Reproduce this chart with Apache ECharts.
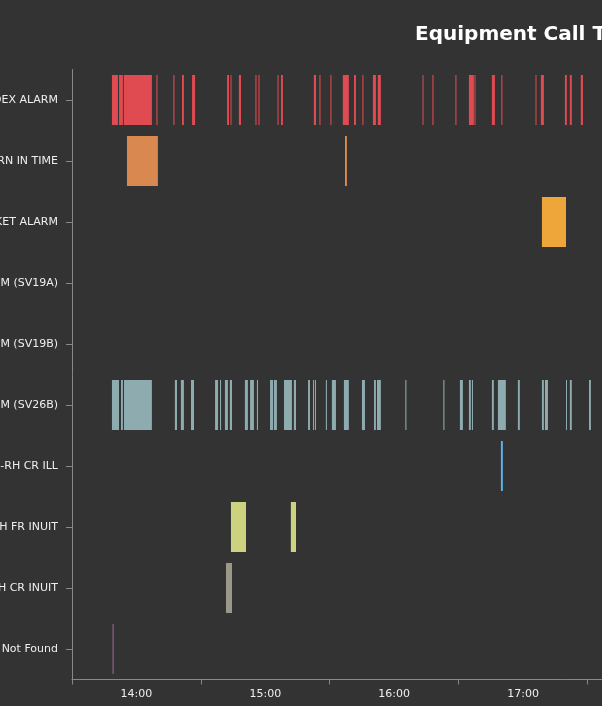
<!DOCTYPE html>
<html>
<head>
<meta charset="utf-8">
<style>
  html, body { margin: 0; padding: 0; background: #333333; overflow: hidden; }
  #chart { width: 1100px; height: 706px; }
</style>
<script src="https://cdn.jsdelivr.net/npm/echarts@6/dist/echarts.min.js"></script>
</head>
<body>
<div id="chart"></div>
<script>
// Categories, top to bottom
var categories = [
  'INDEX ALARM',
  'RETURN IN TIME',
  'BUCKET ALARM',
  'SERVO ALARM (SV19A)',
  'SERVO ALARM (SV19B)',
  'SERVO ALARM (SV26B)',
  'LH-RH CR ILL',
  'LH FR INUIT',
  'RH CR INUIT',
  'Not Found'
];

// Intervals per category: [start, end] in minutes after midnight
var indexAlarm = [
  [828.6, 831.4], [831.9, 833.7], [834.1, 847.2], [849.3, 849.8], [857.2, 857.7],
  [861.2, 862.1], [865.9, 867.3], [882.2, 883.1], [883.8, 884.2], [887.7, 888.7],
  [895.4, 895.9], [896.8, 897.3], [905.7, 906.1], [907.3, 908.2], [922.6, 923.6],
  [925.2, 925.7], [930.3, 930.8], [936.1, 938.9], [941.3, 942.2], [945.2, 945.7],
  [950.1, 951.5], [952.4, 953.8], [973.2, 973.6], [977.8, 978.3], [988.5, 989.0],
  [994.8, 997.1], [997.4, 997.8], [1005.5, 1006.9], [1009.9, 1010.4], [1025.8, 1026.2],
  [1028.3, 1029.7], [1039.5, 1040.4], [1041.8, 1042.7], [1046.9, 1047.9]
];
var returnInTime = [[835.6, 850.0], [937.1, 938.0]];
var bucketAlarm = [[1028.8, 1040.0]];
var servoSV19A = [];
var servoSV19B = [];
var servoSV26B = [
  [828.6, 831.9], [832.8, 833.7], [834.2, 847.2], [857.9, 858.9], [860.7, 862.1],
  [865.4, 866.8], [876.6, 878.0], [878.9, 879.4], [881.2, 882.6], [883.5, 884.5],
  [890.5, 891.9], [892.9, 894.7], [896.1, 896.6], [902.2, 903.6], [904.0, 905.4],
  [908.7, 912.4], [913.3, 914.3], [919.9, 920.8], [922.2, 922.6], [923.1, 923.6],
  [928.2, 928.7], [931.0, 932.9], [936.6, 938.9], [945.0, 946.4], [950.6, 951.5],
  [952.0, 953.8], [965.2, 965.7], [982.9, 983.4], [990.6, 992.0], [994.8, 995.7],
  [996.2, 996.7], [1005.5, 1006.4], [1008.3, 1012.0], [1017.6, 1018.5], [1028.8, 1029.7],
  [1030.2, 1031.6], [1040.0, 1040.4], [1041.8, 1042.7], [1050.7, 1051.6]
];
var lhRhCrIll = [[1009.7, 1010.6]];
var lhFrInuit = [[884.0, 891.0], [911.9, 914.3]];
var rhCrInuit = [[881.7, 884.5]];
var notFound = [[828.9, 829.3]];

var seriesValues = [indexAlarm, returnInTime, bucketAlarm, servoSV19A, servoSV19B,
                    servoSV26B, lhRhCrIll, lhFrInuit, rhCrInuit, notFound];
var colors = ['#e04b52', '#d9884f', '#eea539', '#7fb0c9', '#9ab0b8',
              '#8eabb0', '#5cb3e8', '#cdd27f', '#9c9889', '#a0689a'];

// Axis range in minutes (13:30 -> 21:10)
var xMin = 810, xMax = 1270;

function hhmm(v) {
  var h = Math.floor(v / 60), m = Math.round(v % 60);
  return (h < 10 ? '0' : '') + h + ':' + (m < 10 ? '0' : '') + m;
}

var data = [];
seriesValues.forEach(function (arr, ci) {
  arr.forEach(function (iv) {
    data.push({ value: [ci, iv[0], iv[1]], itemStyle: { color: colors[ci] } });
  });
});

var font = 'DejaVu Sans';
var chart = echarts.init(document.getElementById('chart'), null, { renderer: 'canvas' });
chart.setOption({
  backgroundColor: '#333333',
  animation: false,
  title: {
    text: 'Equipment Call Timeline',
    left: 410,
    top: 20,
    textStyle: { color: '#ffffff', fontSize: 20, fontWeight: 'bold', fontFamily: font }
  },
  grid: { left: 72, top: 69.5, width: 988, height: 610, containLabel: false, outerBoundsMode: 'none' },
  xAxis: [
    {
      type: 'value', min: xMin, max: xMax, interval: 60,
      axisLine: { show: true, lineStyle: { color: '#888888' } },
      axisTick: { show: true, length: 5, lineStyle: { color: '#888888' } },
      axisLabel: { show: false },
      splitLine: { show: false }
    },
    {
      type: 'value', min: xMin, max: xMax, interval: 30, position: 'bottom',
      axisLine: { show: false },
      axisTick: { show: false },
      splitLine: { show: false },
      axisLabel: {
        show: true, margin: 9, color: '#eeeeee', fontSize: 11, fontFamily: font,
        formatter: function (v) { return (Math.round(v) % 60 === 0) ? hhmm(v) : ''; }
      }
    }
  ],
  yAxis: {
    type: 'category', data: categories, inverse: true,
    axisLine: { show: true, lineStyle: { color: '#888888' } },
    axisTick: { show: true, alignWithLabel: true, length: 6, lineStyle: { color: '#888888' } },
    axisLabel: { margin: 14, color: '#eeeeee', fontSize: 11, fontFamily: font },
    splitLine: { show: false }
  },
  series: [{
    type: 'custom',
    xAxisIndex: 0,
    encode: { x: [1, 2], y: 0 },
    renderItem: function (params, api) {
      var ci = api.value(0);
      var p1 = api.coord([api.value(1), ci]);
      var p2 = api.coord([api.value(2), ci]);
      var h = api.size([0, 1])[1] * 0.82;
      var w = Math.max(p2[0] - p1[0], 1);
      return {
        type: 'rect',
        shape: { x: p1[0], y: p1[1] - h / 2, width: w, height: h },
        style: api.style()
      };
    },
    data: data
  }]
});
</script>
</body>
</html>
